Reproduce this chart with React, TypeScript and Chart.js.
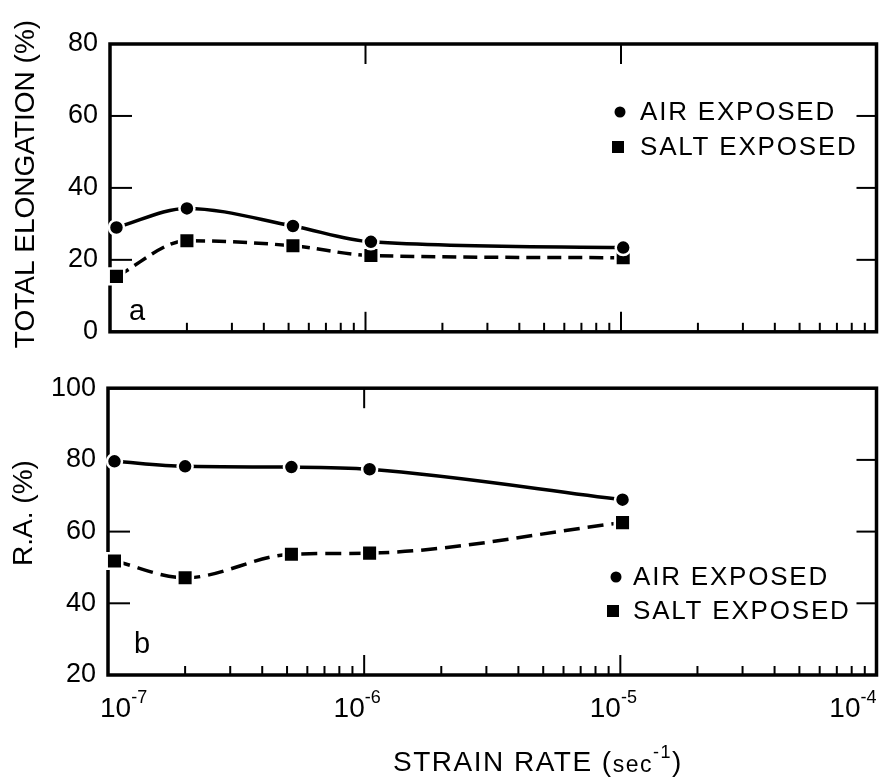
import React, { useEffect, useRef } from 'react';
import { Chart, registerables } from 'chart.js';

Chart.register(...registerables);

// ---------- data ----------
const strainRates = [1.06e-7, 2e-7, 5.2e-7, 1.05e-6, 1.02e-5];
const elongationAir = [29, 34.3, 29.4, 25, 23.4];
const elongationSalt = [15.4, 25.3, 23.9, 21.2, 20.6];
const raAir = [79.6, 78.2, 78, 77.4, 68.9];
const raSalt = [51.8, 47.1, 53.7, 54, 62.5];
const elongationTicks = [0, 20, 40, 60, 80];
const raTicks = [20, 40, 60, 80, 100];
const xTickExponents = [-7, -6, -5, -4];
const seriesNames = ['AIR EXPOSED', 'SALT EXPOSED'];

const FONT = "'Liberation Sans', Arial, Helvetica, sans-serif";

type PanelOpts = {
  topMajor: number[];
  leftTicks: number[];
  rightTicks: number[];
  letter: string;
  letterPos: [number, number];
  legendDot: [number, number];
  legendSq: [number, number];
  legendTextX: number;
  yTitle: string;
  yTitlePos: [number, number];
  xLabels: boolean;
};

function line(ctx: CanvasRenderingContext2D, x1: number, y1: number, x2: number, y2: number) {
  ctx.beginPath();
  ctx.moveTo(x1, y1);
  ctx.lineTo(x2, y2);
  ctx.stroke();
}

function makePlugin(o: PanelOpts) {
  return {
    id: 'panelDecor',
    beforeDatasetsDraw(chart: any) {
      const { ctx, chartArea: ca, scales } = chart;
      const x = scales.x;
      const y = scales.y;
      ctx.save();
      ctx.strokeStyle = '#000';
      ctx.lineWidth = 3.5;
      ctx.strokeRect(ca.left, ca.top, ca.right - ca.left, ca.bottom - ca.top);
      ctx.lineWidth = 2;
      // bottom axis ticks (inward)
      for (let e = -7; e < -4; e++) {
        for (let m = 1; m < 10; m++) {
          if (m === 1 && e === -7) continue;
          const px = x.getPixelForValue(m * Math.pow(10, e));
          const len = m === 1 ? 20 : 9;
          line(ctx, px, ca.bottom, px, ca.bottom - len);
        }
      }
      // top border ticks
      for (const e of o.topMajor) {
        const px = x.getPixelForValue(Math.pow(10, e));
        line(ctx, px, ca.top, px, ca.top + 20);
      }
      // left / right ticks
      for (const v of o.leftTicks) {
        const py = y.getPixelForValue(v);
        line(ctx, ca.left, py, ca.left + 22, py);
      }
      for (const v of o.rightTicks) {
        const py = y.getPixelForValue(v);
        line(ctx, ca.right, py, ca.right - 20, py);
      }
      ctx.restore();
    },
    afterDraw(chart: any) {
      const { ctx, scales } = chart;
      const x = scales.x;
      ctx.save();
      ctx.fillStyle = '#000';
      // panel letter
      ctx.font = `29px ${FONT}`;
      ctx.textAlign = 'center';
      ctx.textBaseline = 'middle';
      ctx.fillText(o.letter, o.letterPos[0], o.letterPos[1]);
      // legend
      ctx.beginPath();
      ctx.arc(o.legendDot[0], o.legendDot[1], 5.5, 0, Math.PI * 2);
      ctx.fill();
      ctx.fillRect(o.legendSq[0] - 6, o.legendSq[1] - 6, 12, 12);
      ctx.font = `26px ${FONT}`;
      (ctx as any).letterSpacing = '1.8px';
      ctx.textAlign = 'left';
      ctx.fillText(seriesNames[0], o.legendTextX, o.legendDot[1] + 1);
      ctx.fillText(seriesNames[1], o.legendTextX, o.legendSq[1] + 1);
      (ctx as any).letterSpacing = '0px';
      // y title
      ctx.save();
      ctx.translate(o.yTitlePos[0], o.yTitlePos[1]);
      ctx.rotate(-Math.PI / 2);
      ctx.font = `28px ${FONT}`;
      ctx.textAlign = 'center';
      ctx.fillText(o.yTitle, 0, 0);
      ctx.restore();
      // x labels
      if (o.xLabels) {
        const ly = 349;
        xTickExponents.forEach((e, i) => {
          const px = x.getPixelForValue(Math.pow(10, e));
          ctx.font = `28px ${FONT}`;
          const wBase = ctx.measureText('10').width;
          ctx.font = `18px ${FONT}`;
          const sup = String(e);
          const wSup = ctx.measureText(sup).width;
          const total = wBase + wSup;
          let left = px - 7 - total / 2;
          if (i === 0) left = px - 8;
          if (i === xTickExponents.length - 1) left = px - total;
          ctx.textAlign = 'left';
          ctx.textBaseline = 'middle';
          ctx.font = `28px ${FONT}`;
          ctx.fillText('10', left, ly);
          ctx.font = `18px ${FONT}`;
          ctx.fillText(sup, left + wBase, ly - 11);
        });
        // x title
        const ty = 403;
        let tx = 393;
        (ctx as any).letterSpacing = '1.5px';
        ctx.font = `28px ${FONT}`;
        ctx.fillText('STRAIN RATE (', tx, ty);
        tx += ctx.measureText('STRAIN RATE (').width;
        ctx.font = `23px ${FONT}`;
        ctx.fillText('sec', tx, ty + 3);
        tx += ctx.measureText('sec').width;
        ctx.font = `18px ${FONT}`;
        ctx.fillText('-1', tx, ty - 10);
        tx += ctx.measureText('-1').width;
        ctx.font = `28px ${FONT}`;
        ctx.fillText(')', tx, ty);
        (ctx as any).letterSpacing = '0px';
      }
      ctx.restore();
    },
  };
}

function makeDatasets(air: number[], salt: number[], dash: number[]) {
  return [
    {
      label: seriesNames[0],
      data: strainRates.map((v, i) => ({ x: v, y: air[i] })),
      borderColor: '#000',
      borderWidth: 3.5,
      pointStyle: 'circle',
      pointRadius: 7.5,
      pointBackgroundColor: '#000',
      pointBorderColor: '#fff',
      pointBorderWidth: 2.5,
      cubicInterpolationMode: 'monotone',
      clip: false,
    },
    {
      label: seriesNames[1],
      data: strainRates.map((v, i) => ({ x: v, y: salt[i] })),
      borderColor: '#000',
      borderWidth: 3.5,
      borderDash: dash,
      pointStyle: 'rect',
      pointRadius: 11,
      pointBackgroundColor: '#000',
      pointBorderColor: '#fff',
      pointBorderWidth: 2.5,
      cubicInterpolationMode: 'monotone',
      clip: false,
    },
  ];
}

function makeConfig(
  datasets: any[],
  yMin: number,
  yMax: number,
  ticks: number[],
  axisWidth: number,
  padding: any,
  plugin: any
): any {
  return {
    type: 'line',
    data: { datasets },
    options: {
      responsive: false,
      animation: false,
      devicePixelRatio: 1,
      layout: { padding },
      plugins: { legend: { display: false }, tooltip: { enabled: false } },
      scales: {
        x: { type: 'logarithmic', min: 1e-7, max: 1e-4, display: false },
        y: {
          min: yMin,
          max: yMax,
          afterFit: (s: any) => {
            s.width = axisWidth;
          },
          afterBuildTicks: (s: any) => {
            s.ticks = ticks.map((v) => ({ value: v }));
          },
          grid: { display: false, drawTicks: false },
          border: { display: false },
          ticks: {
            color: '#000',
            padding: 12,
            font: { family: FONT, size: 27 },
          },
        },
      },
    },
    plugins: [plugin],
  };
}

export default function App() {
  const topRef = useRef<HTMLCanvasElement>(null);
  const botRef = useRef<HTMLCanvasElement>(null);

  useEffect(() => {
    const topPlugin = makePlugin({
      topMajor: [-6, -5],
      leftTicks: [20, 40, 60],
      rightTicks: [20, 40, 60],
      letter: 'a',
      letterPos: [137, 312],
      legendDot: [620, 112],
      legendSq: [618, 147],
      legendTextX: 640,
      yTitle: 'TOTAL ELONGATION (%)',
      yTitlePos: [26, 184],
      xLabels: false,
    });
    const botPlugin = makePlugin({
      topMajor: [-6],
      leftTicks: [40, 60],
      rightTicks: [40, 60, 80],
      letter: 'b',
      letterPos: [142, 285],
      legendDot: [616, 217],
      legendSq: [613, 251],
      legendTextX: 633,
      yTitle: 'R.A. (%)',
      yTitlePos: [24, 153],
      xLabels: true,
    });
    const top = new Chart(
      topRef.current!,
      makeConfig(
        makeDatasets(elongationAir, elongationSalt, [14, 7]),
        0,
        80,
        elongationTicks,
        110,
        { left: 0, right: 3, top: 44, bottom: 25 },
        topPlugin
      )
    );
    const bot = new Chart(
      botRef.current!,
      makeConfig(
        makeDatasets(raAir, raSalt, [16, 8]),
        20,
        100,
        raTicks,
        108,
        { left: 0, right: 3, top: 25, bottom: 102 },
        botPlugin
      )
    );
    return () => {
      top.destroy();
      bot.destroy();
    };
  }, []);

  return (
    <div style={{ position: 'absolute', left: 0, top: 0, width: 890, height: 777, background: '#fff' }}>
      <canvas ref={topRef} width={890} height={360} style={{ position: 'absolute', left: 0, top: 0 }} />
      <canvas ref={botRef} width={890} height={417} style={{ position: 'absolute', left: 0, top: 360 }} />
    </div>
  );
}
